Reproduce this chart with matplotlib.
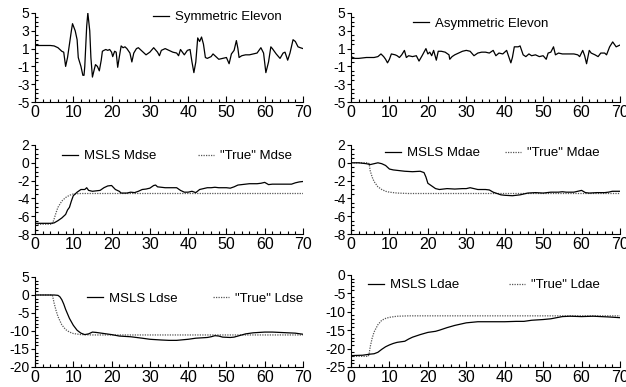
import matplotlib
matplotlib.use("Agg")
import matplotlib.pyplot as plt
from matplotlib.ticker import MultipleLocator

plt.rcParams['font.family'] = ['Liberation Sans', 'DejaVu Sans']
plt.rcParams['axes.unicode_minus'] = False

# elevon inputs
sym_t = [0, 2, 4, 5, 6, 7, 7.5, 8, 8.5, 9, 9.5, 9.8, 10.5, 11, 11.3, 11.5, 12, 12.5, 12.8,
         13, 13.5, 13.8, 14.3, 14.6, 15, 15.5, 15.8, 16.3, 16.8, 17.3, 17.6, 18, 18.5, 19,
         19.5, 20, 20.3, 20.8, 21.2, 21.6, 22, 22.5, 23, 23.5, 24, 24.8, 25.3, 25.8, 26.5,
         27, 28, 29, 30, 31, 32, 32.5, 33, 33.5, 34, 35, 36, 37, 37.5, 38, 39, 39.8, 40.5,
         41, 41.5, 42, 42.5, 43, 43.5, 44, 44.5, 45, 46, 46.5, 47, 48, 49, 50, 50.7, 51.3,
         52, 52.6, 53, 53.3, 54, 55, 56, 57, 58, 59, 59.7, 60.3, 61, 61.6, 62, 63, 64,
         64.8, 65.3, 66, 66.6, 67.4, 68, 68.7, 69.3, 70]
sym_v = [1.35, 1.35, 1.35, 1.3, 1.1, 0.7, 0.6, -1.0, 0.0, 1.5, 3.0, 3.8, 3.0, 2.0, 0.0, -0.3,
         -1.0, -2.0, -2.0, -1.0, 3.5, 5.0, 3.0, 0.0, -2.2, -1.3, -0.8, -1.0, -1.5, -0.3, 0.7,
         0.8, 0.9, 0.8, 0.9, 0.6, 0.1, 0.7, 0.6, -1.1, 0.0, 1.3, 1.1, 1.2, 1.0, 0.5, -0.5,
         0.5, 1.0, 1.1, 0.7, 0.3, 0.6, 1.1, 0.6, 0.2, 0.8, 0.9, 1.0, 0.8, 0.6, 0.5, 0.2,
         0.9, 0.3, 0.8, 0.9, -0.5, -1.7, -0.5, 2.2, 1.8, 2.3, 1.5, 0.0, -0.1, 0.1, 0.4, 0.2,
         -0.2, -0.1, 0.0, -0.7, 0.4, 0.8, 1.9, 1.0, 0.0, 0.2, 0.3, 0.3, 0.4, 0.5, 1.1, 0.5,
         -1.7, -0.5, 1.2, 1.0, 0.4, -0.1, 0.5, 0.6, -0.3, 0.5, 2.0, 1.8, 1.2, 1.1, 1.0]

asym_t = [0, 1, 2, 4, 6, 7, 7.8, 8.5, 9, 9.5, 10, 10.5, 11.5, 12, 12.6, 13.2, 13.9, 14.4, 15,
          16, 17, 17.7, 18.5, 19.5, 20, 20.5, 21, 21.5, 22.2, 22.7, 23.5, 24.5, 25.5, 25.7,
          26.3, 27, 28, 29, 30, 31, 32, 33, 34, 35, 36, 37, 37.7, 38.5, 39.5, 40.5, 41.2,
          41.6, 42, 42.5, 43.5, 44, 44.8, 45.5, 46.3, 47, 48, 49, 50, 50.8, 51.3, 52, 52.7,
          53.2, 54, 55, 56, 58, 59, 59.5, 60.3, 60.8, 61.3, 62, 62.5, 63.5, 64.3, 65, 66,
          66.5, 67.3, 68.1, 69, 70]
asym_v = [0.1, -0.1, -0.1, 0.0, 0.0, 0.1, 0.4, 0.1, -0.2, -0.6, -0.2, 0.4, 0.3, 0.2, 0.0, 0.3,
          0.8, 0.0, 0.2, 0.1, 0.2, -0.4, 0.2, 1.0, 0.4, 0.6, 0.2, 0.8, -0.3, 0.7, 0.7, 0.6,
          0.3, -0.2, 0.1, 0.3, 0.5, 0.7, 0.8, 0.7, 0.2, 0.5, 0.6, 0.6, 0.5, 0.8, 0.2, 0.5,
          0.4, 0.8, -0.1, -0.6, 0.0, 1.2, 1.2, 1.3, 0.3, 0.1, 0.4, 0.2, 0.3, 0.1, 0.2, -0.2,
          0.5, 0.6, 1.2, 0.3, 0.5, 0.4, 0.4, 0.4, 0.3, 0.1, 0.8, 0.2, -0.7, 0.8, 0.5, 0.3,
          0.1, 0.5, 0.5, 0.3, 1.2, 1.75, 1.2, 1.4]

# pitch derivatives
mdse_t = [0, 4, 5, 6, 7, 8, 8.5, 9, 9.5, 10, 11, 12, 13, 13.5, 14, 15, 16, 17, 18, 19, 20,
          21, 22, 22.5, 24, 25, 26, 27, 28, 29, 30, 31, 31.5, 32, 33, 34, 35, 36, 37, 38,
          39, 40, 41, 42, 43, 44, 45, 46, 47, 48, 50, 51, 52, 53, 54, 55, 56, 57, 58, 59,
          60, 61, 62, 64, 66, 67, 68, 69, 70]
mdse_v = [-6.8, -6.8, -6.75, -6.5, -6.2, -5.8, -5.3, -5.0, -4.3, -3.7, -3.3, -3.0, -3.0,
          -2.8, -3.1, -3.2, -3.15, -3.1, -2.8, -2.6, -2.55, -3.0, -3.2, -3.4, -3.4, -3.3,
          -3.35, -3.2, -3.0, -2.95, -2.85, -2.55, -2.5, -2.7, -2.75, -2.8, -2.8, -2.8, -2.8,
          -3.1, -3.3, -3.3, -3.2, -3.35, -3.0, -2.9, -2.8, -2.8, -2.75, -2.8, -2.8, -2.85,
          -2.7, -2.5, -2.45, -2.4, -2.35, -2.35, -2.35, -2.3, -2.2, -2.45, -2.4, -2.4, -2.4,
          -2.4, -2.25, -2.15, -2.1]
mdse_true_t = [0, 4.5, 5, 5.5, 6, 7, 8, 9, 10, 12, 70]
mdse_true_v = [-6.9, -6.9, -6.3, -5.6, -5.0, -4.3, -3.9, -3.65, -3.5, -3.45, -3.45]

mdae_t = [0, 2, 3, 4, 5, 6, 7, 8, 9, 10, 11, 12, 14, 16, 18, 19, 19.5, 20, 21, 22, 23, 25,
          27, 29, 30, 31, 32, 33, 35, 36, 37, 38, 39, 40, 42, 43, 44, 45, 46, 48, 50, 52,
          54, 55, 56, 58, 59, 60, 61, 62, 64, 66, 67, 68, 70]
mdae_v = [0.0, 0.0, -0.05, -0.1, -0.2, -0.1, 0.0, -0.1, -0.3, -0.7, -0.8, -0.85, -0.95,
          -1.0, -0.95, -1.1, -1.6, -2.3, -2.6, -2.9, -3.0, -2.9, -2.95, -2.9, -2.9, -2.8,
          -2.9, -3.0, -3.0, -3.05, -3.3, -3.45, -3.6, -3.65, -3.7, -3.65, -3.6, -3.5, -3.4,
          -3.35, -3.4, -3.3, -3.3, -3.25, -3.3, -3.3, -3.2, -3.1, -3.35, -3.4, -3.35, -3.35,
          -3.3, -3.2, -3.2]
mdae_true_t = [0, 4.5, 4.7, 5, 5.5, 6, 7, 8, 9, 10, 12, 15, 70]
mdae_true_v = [0.0, 0.0, -0.1, -0.9, -1.6, -2.1, -2.7, -3.0, -3.2, -3.3, -3.4, -3.45, -3.45]

# roll derivatives
ldse_t = [0, 5, 6, 6.5, 7, 7.5, 8, 9, 10, 11, 12, 13, 14, 15, 16, 18, 20, 22, 25, 28, 30,
          33, 35, 37, 40, 42, 45, 46, 47, 48, 49, 51, 52, 53, 55, 57, 60, 62, 64, 66, 68, 70]
ldse_v = [0.0, 0.0, -0.1, -0.5, -1.3, -2.5, -4.0, -6.5, -8.4, -9.8, -10.6, -11.0, -10.8,
          -10.3, -10.4, -10.7, -11.0, -11.4, -11.6, -12.0, -12.3, -12.5, -12.6, -12.6, -12.3,
          -12.0, -11.8, -11.6, -11.3, -11.4, -11.7, -11.8, -11.7, -11.4, -10.8, -10.5, -10.3,
          -10.3, -10.4, -10.5, -10.6, -10.9]
ldse_true_t = [0, 4.5, 4.6, 5, 5.5, 6, 7, 8, 9, 10, 12, 15, 70]
ldse_true_v = [0.0, 0.0, -0.3, -2.3, -4.3, -6.0, -8.3, -9.6, -10.3, -10.7, -11.0, -11.1, -11.1]

ldae_t = [0, 3, 5, 6, 7, 8, 9, 10, 11, 12, 14, 15, 16, 18, 20, 22, 23, 25, 27, 30, 33, 35,
          40, 43, 45, 47, 50, 52, 54, 55, 57, 60, 63, 65, 67, 70]
ldae_v = [-21.9, -21.8, -21.5, -21.4, -21.0, -20.2, -19.5, -19.0, -18.6, -18.3, -18.0,
          -17.4, -16.9, -16.2, -15.6, -15.3, -15.0, -14.3, -13.7, -13.0, -12.7, -12.7, -12.7,
          -12.6, -12.6, -12.3, -12.1, -11.9, -11.5, -11.3, -11.2, -11.3, -11.2, -11.3, -11.4,
          -11.6]
ldae_true_t = [0, 4.5, 4.7, 5, 5.5, 6, 7, 8, 9, 10, 12, 15, 70]
ldae_true_v = [-22.1, -22.1, -21.5, -19.5, -17.2, -15.5, -13.5, -12.3, -11.8, -11.5, -11.2,
               -11.1, -11.1]

# y tick values per row
elevon_ticks = [-5, -3, -1, 1, 3, 5]
pitch_ticks = [-8, -6, -4, -2, 0, 2]
ldse_ticks = [-20, -15, -10, -5, 0, 5]
ldae_ticks = [-25, -20, -15, -10, -5, 0]

TRUE_STYLE = dict(color='#555555', lw=0.9, ls=(0, (1, 1)))
LINE_STYLE = dict(color='black', lw=0.9)


def style_axis(ax, yticks, yminor):
    ax.set_xlim(0, 70)
    ax.set_ylim(yticks[0], yticks[-1])
    for side in ('top', 'right'):
        ax.spines[side].set_visible(False)
    ax.xaxis.set_major_locator(MultipleLocator(10))
    ax.xaxis.set_minor_locator(MultipleLocator(2))
    ax.set_yticks(yticks)
    ax.yaxis.set_minor_locator(MultipleLocator(yminor))
    ax.tick_params(axis='x', which='major', direction='in', length=4, width=0.8,
                   labelsize=11.5, pad=2)
    ax.tick_params(axis='x', which='minor', direction='in', length=2, width=0.8)
    ax.tick_params(axis='y', which='major', direction='out', length=3, width=0.8,
                   labelsize=10, pad=1)
    ax.tick_params(axis='y', which='minor', direction='in', length=2, width=0.8)


def add_key(ax, line, label, x, y, keep=False):
    leg = ax.legend([line], [label], loc='center left', bbox_to_anchor=(x, y),
                    frameon=False, fontsize=9.5, handlelength=1.2, handletextpad=0.5,
                    borderpad=0, borderaxespad=0)
    # keep the first key when a second legend is added on the same axes
    if keep:
        ax.add_artist(leg)


fig = plt.figure(figsize=(6.26, 3.87), dpi=100)
W, H = 626.0, 387.0


def box(left, right, top, bottom):
    return [left / W, 1 - bottom / H, (right - left) / W, (bottom - top) / H]


ax1 = fig.add_axes(box(35, 303, 13, 102))
ax2 = fig.add_axes(box(351, 620, 13, 102))
ax3 = fig.add_axes(box(35, 303, 145, 234))
ax4 = fig.add_axes(box(351, 620, 145, 234))
ax5 = fig.add_axes(box(35, 303, 277, 367))
ax6 = fig.add_axes(box(351, 620, 275, 367))

l1, = ax1.plot(sym_t, sym_v, **LINE_STYLE)
style_axis(ax1, elevon_ticks, 0.5)
add_key(ax1, l1, 'Symmetric Elevon', 0.44, 0.955)

l2, = ax2.plot(asym_t, asym_v, **LINE_STYLE)
style_axis(ax2, elevon_ticks, 0.5)
add_key(ax2, l2, 'Asymmetric Elevon', 0.23, 0.877)

d3, = ax3.plot(mdse_true_t, mdse_true_v, **TRUE_STYLE)
l3, = ax3.plot(mdse_t, mdse_v, **LINE_STYLE)
style_axis(ax3, pitch_ticks, 0.5)
add_key(ax3, l3, 'MSLS Mdse', 0.10, 0.876, keep=True)
add_key(ax3, d3, '"True" Mdse', 0.608, 0.876)

d4, = ax4.plot(mdae_true_t, mdae_true_v, **TRUE_STYLE)
l4, = ax4.plot(mdae_t, mdae_v, **LINE_STYLE)
style_axis(ax4, pitch_ticks, 0.5)
add_key(ax4, l4, 'MSLS Mdae', 0.126, 0.91, keep=True)
add_key(ax4, d4, '"True" Mdae', 0.572, 0.91)

d5, = ax5.plot(ldse_true_t, ldse_true_v, **TRUE_STYLE)
l5, = ax5.plot(ldse_t, ldse_v, **LINE_STYLE)
style_axis(ax5, ldse_ticks, 1)
add_key(ax5, l5, 'MSLS Ldse', 0.194, 0.756, keep=True)
add_key(ax5, d5, '"True" Ldse', 0.664, 0.756)

d6, = ax6.plot(ldae_true_t, ldae_true_v, **TRUE_STYLE)
l6, = ax6.plot(ldae_t, ldae_v, **LINE_STYLE)
style_axis(ax6, ldae_ticks, 1)
add_key(ax6, l6, 'MSLS Ldae', 0.063, 0.891, keep=True)
add_key(ax6, d6, '"True" Ldae', 0.587, 0.891)

fig.savefig('out.png', dpi=100)
